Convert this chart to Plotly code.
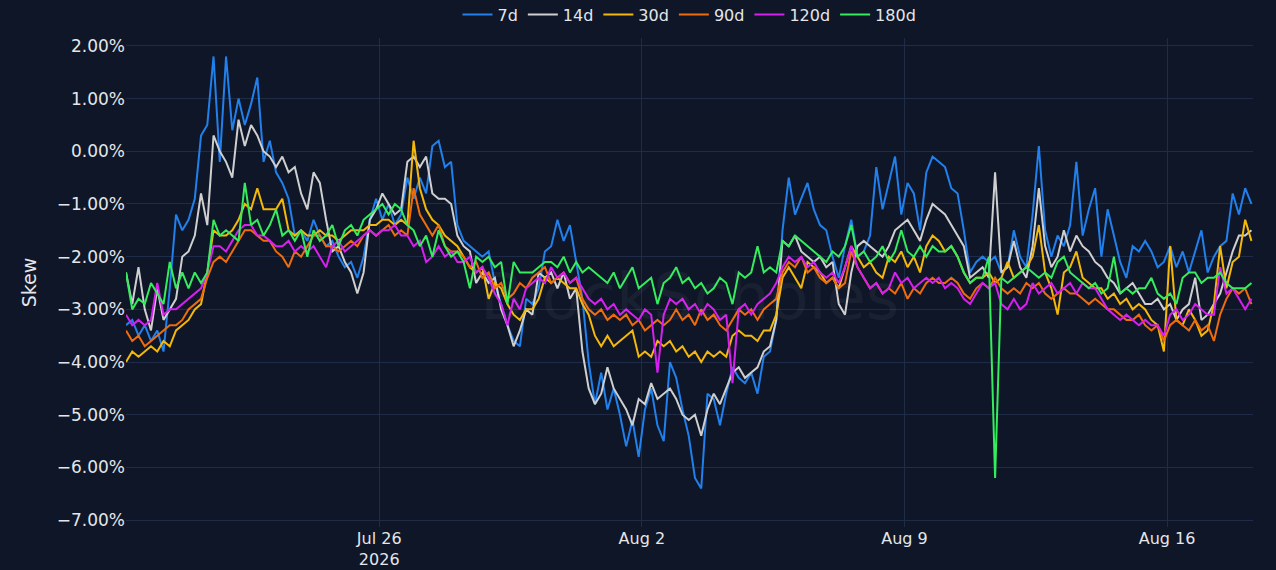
import plotly.graph_objects as go
import pandas as pd

# skew readings (%) every 4 hours starting 2026-07-19 06:00
start = "2026-07-19 06:00"

skew_7d = [
    -3.3, -3.2, -3.5, -3.3, -3.6, -3.4, -3.8, -2.6, -1.2, -1.5, -1.3, -0.9, 0.3, 0.5, 1.8, -0.2, 1.8, 0.4, 1.0, 0.5,
    0.9, 1.4, -0.2, 0.2, -0.4, -0.6, -0.9, -1.6, -1.5, -1.7, -1.3, -1.6, -1.8, -1.7, -2.0, -2.2, -2.1, -2.4, -2.0, -1.3,
    -0.9, -1.3, -1.0, -1.4, -1.2, -0.5, -0.9, -0.5, -0.8, 0.1, 0.2, -0.3, -0.2, -1.4, -1.7, -1.8, -1.9, -2.0, -1.9, -2.5,
    -2.9, -3.3, -3.6, -3.7, -2.8, -2.9, -2.6, -1.9, -1.8, -1.3, -1.7, -1.4, -2.1, -2.8, -4.0, -4.8, -4.2, -4.9, -4.5, -5.0,
    -5.6, -5.1, -5.8, -4.9, -4.5, -5.2, -5.5, -4.0, -4.3, -4.9, -5.4, -6.2, -6.4, -4.6, -4.7, -5.2, -4.6, -4.1, -4.3, -4.4,
    -4.2, -4.6, -3.9, -3.8, -3.2, -1.5, -0.5, -1.2, -0.9, -0.6, -1.1, -1.4, -1.5, -2.0, -2.4, -1.8, -1.3, -2.0, -1.9, -1.6,
    -0.3, -1.1, -0.6, -0.1, -1.2, -0.6, -0.8, -1.5, -0.4, -0.1, -0.2, -0.3, -0.7, -0.8, -1.5, -2.3, -2.1, -2.0, -2.1, -2.0,
    -2.3, -2.2, -1.5, -2.0, -2.2, -1.2, 0.1, -1.5, -2.0, -1.6, -1.8, -1.4, -0.2, -1.6, -1.1, -0.7, -2.0, -1.1, -1.6, -2.1,
    -2.4, -1.8, -1.9, -1.7, -1.9, -2.2, -2.1, -1.8, -2.2, -1.9, -2.3, -1.9, -1.5, -2.3, -2.0, -1.8, -1.7, -0.8, -1.2, -0.7,
    -1.0,
]

skew_14d = [
    -2.3, -2.9, -2.2, -3.0, -3.4, -2.6, -3.2, -3.0, -2.8, -2.0, -1.9, -1.6, -0.8, -1.4, 0.3, 0.0, -0.2, -0.5, 0.6, 0.1,
    0.5, 0.3, 0.0, -0.1, -0.3, -0.1, -0.4, -0.3, -0.8, -1.1, -0.4, -0.6, -1.3, -1.9, -1.8, -2.1, -2.3, -2.7, -2.3, -1.3,
    -1.1, -0.8, -1.0, -1.2, -1.1, -0.2, -0.1, -0.3, -0.1, -0.8, -0.9, -0.9, -1.0, -1.6, -1.8, -1.9, -2.5, -2.3, -2.5, -2.4,
    -3.0, -3.3, -3.7, -3.4, -3.0, -3.1, -2.3, -2.4, -2.3, -2.6, -2.3, -2.8, -2.6, -3.8, -4.5, -4.8, -4.6, -4.1, -4.5, -4.7,
    -4.9, -5.2, -4.7, -4.8, -4.4, -4.7, -4.6, -4.5, -4.7, -5.0, -5.1, -5.0, -5.4, -4.9, -4.6, -4.8, -4.5, -4.2, -4.1, -4.3,
    -4.2, -4.1, -3.8, -3.7, -3.2, -1.7, -1.8, -1.6, -1.9, -2.0, -2.1, -2.0, -2.2, -2.1, -2.9, -3.1, -2.3, -1.8, -1.7, -1.8,
    -1.9, -2.0, -1.8, -1.5, -1.4, -1.3, -1.5, -1.7, -1.3, -1.0, -1.1, -1.2, -1.4, -1.6, -1.8, -2.4, -2.3, -2.2, -2.4, -0.4,
    -2.3, -2.2, -1.7, -2.2, -2.4, -1.8, -0.7, -1.8, -2.2, -2.0, -1.5, -1.9, -1.6, -1.8, -1.9, -2.1, -2.2, -2.4, -2.5, -2.7,
    -2.6, -2.5, -2.7, -2.9, -2.9, -2.8, -3.0, -2.9, -3.2, -3.0, -2.9, -2.4, -3.2, -3.1, -2.9, -2.7, -2.3, -1.9, -1.6, -1.6,
    -1.5,
]

skew_30d = [
    -4.0, -3.8, -3.9, -3.8, -3.7, -3.8, -3.6, -3.7, -3.4, -3.3, -3.2, -3.0, -2.9, -2.3, -1.5, -1.6, -1.6, -1.5, -1.3, -1.0,
    -1.1, -0.7, -1.1, -1.1, -1.1, -0.9, -1.5, -1.6, -1.5, -1.6, -1.6, -1.5, -1.6, -1.6, -1.7, -1.6, -1.5, -1.5, -1.5, -1.4,
    -1.4, -1.3, -1.3, -1.4, -1.3, -1.4, 0.2, -0.7, -1.1, -1.3, -1.4, -1.6, -1.7, -1.8, -2.0, -2.2, -2.3, -2.2, -2.8, -2.5,
    -2.6, -2.9, -3.1, -3.2, -3.0, -3.0, -2.8, -2.4, -2.5, -2.4, -2.5, -2.6, -2.6, -2.9, -3.1, -3.5, -3.7, -3.5, -3.7, -3.6,
    -3.5, -3.4, -3.9, -3.8, -3.9, -3.6, -3.7, -3.6, -3.8, -3.7, -3.9, -3.8, -4.0, -3.8, -3.9, -3.8, -3.9, -3.5, -3.4, -3.5,
    -3.5, -3.6, -3.4, -3.4, -3.1, -2.4, -2.2, -2.4, -2.6, -2.1, -2.2, -2.3, -2.5, -2.4, -2.6, -2.2, -1.8, -2.0, -2.2, -2.1,
    -2.3, -2.4, -2.0, -2.1, -1.9, -2.2, -2.0, -2.3, -1.8, -1.6, -1.7, -1.9, -1.8, -2.0, -2.3, -2.5, -2.4, -2.4, -2.3, -2.5,
    -2.4, -2.1, -2.4, -2.3, -2.2, -2.0, -1.4, -2.3, -2.6, -3.1, -2.3, -2.2, -1.9, -2.4, -2.5, -2.6, -2.6, -2.8, -2.7, -2.9,
    -2.8, -3.0, -2.9, -3.0, -3.2, -3.3, -3.8, -1.8, -3.2, -3.3, -3.0, -3.2, -3.5, -3.4, -2.9, -1.8, -2.6, -2.1, -2.0, -1.3,
    -1.7,
]

skew_90d = [
    -3.4, -3.6, -3.5, -3.7, -3.6, -3.5, -3.4, -3.3, -3.3, -3.2, -3.0, -2.9, -2.8, -2.4, -2.1, -2.0, -2.1, -1.9, -1.7, -1.5,
    -1.5, -1.6, -1.7, -1.7, -1.9, -2.0, -2.2, -1.9, -2.0, -1.8, -1.6, -1.6, -1.8, -1.8, -1.9, -1.8, -1.7, -1.8, -1.6, -1.5,
    -1.6, -1.5, -1.4, -1.6, -1.5, -1.6, -0.7, -1.2, -1.4, -1.6, -1.4, -1.8, -1.9, -1.9, -2.0, -2.2, -2.1, -2.4, -2.3, -2.6,
    -2.5, -2.8, -2.7, -2.5, -2.6, -2.4, -2.3, -2.2, -2.5, -2.4, -2.3, -2.5, -2.4, -2.8, -3.0, -3.1, -3.0, -3.2, -3.1, -3.2,
    -3.1, -3.3, -3.2, -3.4, -3.3, -3.2, -3.3, -3.2, -3.0, -3.2, -3.1, -3.3, -3.0, -3.2, -3.1, -3.3, -3.4, -3.2, -3.0, -3.1,
    -3.0, -3.2, -3.0, -2.9, -2.8, -2.3, -2.1, -2.2, -2.0, -2.3, -2.2, -2.4, -2.5, -2.4, -2.6, -2.5, -1.9, -2.2, -2.4, -2.6,
    -2.5, -2.7, -2.6, -2.7, -2.5, -2.8, -2.6, -2.7, -2.5, -2.4, -2.5, -2.5, -2.4, -2.5, -2.7, -2.8, -2.6, -2.5, -2.6, -2.4,
    -2.6, -2.7, -2.6, -2.7, -2.5, -2.6, -2.5, -2.7, -2.8, -2.7, -2.6, -2.7, -2.7, -2.8, -2.9, -2.8, -2.9, -3.0, -3.0, -3.1,
    -3.2, -3.2, -3.1, -3.3, -3.4, -3.3, -3.6, -3.3, -3.2, -3.3, -3.4, -3.2, -3.4, -3.3, -3.6, -3.1, -2.8, -2.6, -2.7, -2.6,
    -2.9,
]

skew_120d = [
    -3.1, -3.3, -3.2, -3.3, -3.2, -2.5, -3.1, -3.0, -3.0, -2.9, -2.8, -2.7, -2.6, -2.3, -1.8, -1.8, -1.9, -1.7, -1.5, -1.4,
    -1.4, -1.6, -1.6, -1.7, -1.8, -1.8, -1.7, -1.9, -1.8, -1.9, -1.8, -2.0, -2.2, -1.8, -1.7, -1.9, -1.8, -1.7, -1.6, -1.5,
    -1.6, -1.5, -1.5, -1.4, -1.6, -1.6, -1.8, -1.7, -2.1, -2.0, -1.8, -2.0, -1.9, -2.1, -2.1, -2.0, -2.3, -2.2, -2.4, -2.7,
    -2.9, -3.3, -2.8, -3.0, -2.6, -2.5, -2.4, -2.5, -2.2, -2.4, -2.3, -2.5, -2.4, -2.6, -2.8, -2.9, -2.8, -3.0, -2.9, -3.1,
    -3.0, -3.1, -3.2, -3.0, -3.1, -4.2, -3.1, -2.8, -2.9, -2.8, -3.0, -2.9, -3.1, -2.9, -3.0, -3.2, -3.1, -4.4, -3.0, -2.9,
    -3.1, -2.9, -2.8, -2.7, -2.5, -2.2, -2.0, -2.1, -2.0, -2.2, -2.1, -2.3, -2.4, -2.3, -2.5, -2.2, -1.8, -2.2, -2.4, -2.6,
    -2.5, -2.7, -2.6, -2.3, -2.5, -2.4, -2.6, -2.5, -2.4, -2.5, -2.4, -2.6, -2.5, -2.6, -2.8, -2.9, -2.7, -2.5, -2.6, -2.5,
    -2.9, -3.0, -2.8, -3.0, -2.9, -2.5, -2.7, -2.6, -2.5, -2.7, -2.6, -2.5, -2.7, -2.5, -2.6, -2.6, -2.8, -3.0, -3.1, -3.2,
    -3.1, -3.2, -3.3, -3.2, -3.3, -3.3, -3.5, -3.1, -3.0, -3.2, -3.1, -2.9, -3.0, -3.1, -3.1, -2.2, -2.7, -2.6, -2.8, -3.0,
    -2.8,
]

skew_180d = [
    -2.3, -3.0, -2.8, -2.9, -2.5, -2.7, -2.9, -2.1, -2.6, -2.3, -2.6, -2.3, -2.5, -2.3, -1.3, -1.6, -1.5, -1.6, -1.7, -0.6,
    -1.4, -1.3, -1.6, -1.4, -1.1, -1.6, -1.5, -1.7, -1.5, -2.0, -1.5, -1.7, -1.6, -1.4, -1.8, -1.5, -1.4, -1.6, -1.3, -1.2,
    -1.1, -1.0, -1.2, -1.0, -1.1, -1.4, -1.5, -1.8, -1.6, -2.0, -1.5, -1.8, -2.0, -1.9, -2.1, -2.6, -2.0, -2.1, -2.0, -2.2,
    -2.1, -2.9, -2.1, -2.3, -2.3, -2.3, -2.2, -2.1, -2.1, -2.2, -2.0, -2.3, -2.1, -2.3, -2.2, -2.3, -2.4, -2.5, -2.3, -2.6,
    -2.4, -2.2, -2.6, -2.5, -2.4, -2.9, -2.5, -2.4, -2.2, -2.5, -2.4, -2.6, -2.5, -2.7, -2.6, -2.4, -2.5, -2.9, -2.3, -2.4,
    -2.3, -1.8, -2.3, -2.2, -2.3, -1.7, -1.8, -1.6, -1.7, -1.8, -1.9, -2.0, -2.1, -1.9, -2.0, -1.8, -1.4, -2.0, -1.9, -2.1,
    -2.0, -1.8, -2.1, -1.9, -1.5, -1.9, -2.0, -1.8, -2.0, -1.8, -1.9, -1.9, -1.8, -2.0, -2.3, -2.5, -2.4, -2.4, -2.0, -6.2,
    -2.4, -2.5, -2.4, -2.3, -2.2, -2.3, -2.4, -2.3, -2.4, -2.1, -2.0, -2.3, -2.4, -2.5, -2.6, -2.5, -2.7, -2.6, -2.0, -2.7,
    -2.6, -2.7, -2.6, -2.6, -2.4, -2.7, -2.8, -2.7, -2.9, -2.4, -2.3, -2.3, -2.5, -2.4, -2.4, -2.3, -2.5, -2.6, -2.6, -2.6,
    -2.5,
]

names = ["7d", "14d", "30d", "90d", "120d", "180d"]
colors = ["#2180ec", "#cfcfcf", "#f4b80a", "#ef6c0c", "#d620ee", "#34ec5c"]
series = [skew_7d, skew_14d, skew_30d, skew_90d, skew_120d, skew_180d]

times = pd.date_range(start, periods=len(skew_7d), freq="4h")

fig = go.Figure()
for name, color, values in zip(names, colors, series):
    fig.add_trace(go.Scatter(x=times, y=values, mode="lines", name=name,
                             line=dict(color=color, width=2)))

grid = "#1f2c47"
fig.update_layout(
    width=1276, height=570,
    paper_bgcolor="#0e1628", plot_bgcolor="#0e1628",
    font=dict(family="DejaVu Sans", size=16, color="#e4e6ea"),
    margin=dict(l=126, r=23, t=38, b=43, autoexpand=False),
    legend=dict(orientation="h", x=0.5, xanchor="center", y=1.048, yanchor="middle",
                font=dict(size=16), bgcolor="rgba(0,0,0,0)"),
    showlegend=True,
    annotations=[dict(text="BlockScholes", x=0.5, y=0.47, xref="paper", yref="paper",
                      showarrow=False, font=dict(size=64, color="rgba(255,255,255,0.045)"))],
)
fig.update_xaxes(showgrid=True, gridcolor=grid, zeroline=False, showline=False,
                 automargin=False, tickfont=dict(size=16),
                 tick0="2026-07-26", dtick=7 * 86400000,
                 range=[times[0], times[-1] + pd.Timedelta(hours=1)])
fig.update_yaxes(title_text="Skew", showgrid=True, gridcolor=grid, zeroline=False,
                 showline=False, automargin=False, tickfont=dict(size=17),
                 range=[-7.13, 2.15], dtick=1, tickformat=".2f", ticksuffix="%")

fig.write_html("out.html", config={"displayModeBar": False},
               post_script="document.body.style.margin='0';")
